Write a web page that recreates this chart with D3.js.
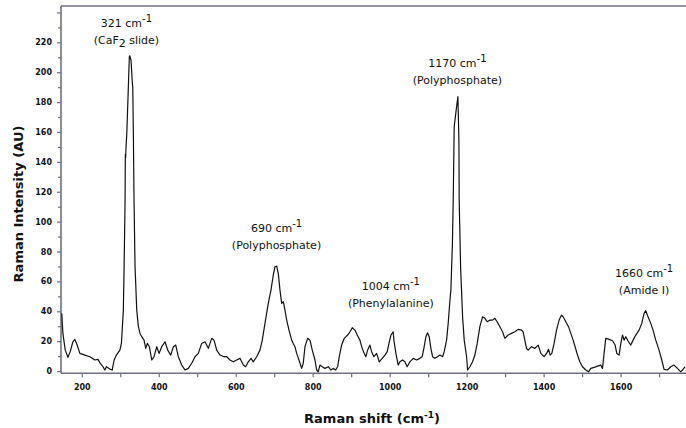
<!DOCTYPE html>
<html>
<head>
<meta charset="utf-8">
<script src="https://cdn.jsdelivr.net/npm/d3@7"></script>
<style>
  html, body { margin: 0; padding: 0; background: #fff; }
  svg { display: block; }
</style>
</head>
<body>
<svg id="chart" width="686" height="428"></svg>
<script>
// ---- data ----
const wavenumber = [148,151,157,164,170,177,182,188,195,208,221,234,242,248,255,260,264,273,279,284,290,299,303,305,308,310,312.5,313.2,314,315,317,321,323.6,324.6,328,331.4,332.5,334,335.8,338.4,342.8,347,351.4,355.8,361.8,366.2,370.4,375.6,381.8,387.8,394.8,400.7,407.8,416.3,423.3,431.1,437.9,444.1,450.9,459.7,468.3,476.8,485.7,494.2,502.8,511.6,520.2,528.8,537.6,543.6,550.6,559.2,569.6,576.6,585.1,593.7,602.5,611.1,619.7,625.9,632.7,639.7,645.7,654.5,663,669,676,684.6,691.6,697.6,702,706.4,710.6,715,719.4,723.6,728,732.4,738.4,745.4,749.5,753.9,758.4,764.3,771.3,775.5,779.9,786.9,792.9,798.9,805.9,810.3,814.4,818.9,824.8,831.8,840.4,847.4,853.4,859.6,864.8,869,875.2,882,890.8,896.8,902.7,909.8,915.7,922.7,928.7,933.9,938.3,942.7,948.7,953.1,959.1,966.1,972.9,980.7,987.7,993.7,998.1,1003.3,1009.2,1011,1016.2,1022.2,1026.6,1033.6,1039.6,1045.6,1052.6,1061.2,1070,1078.6,1084.5,1088.9,1094.2,1098.5,1102.7,1107.1,1111.5,1117.5,1124.5,1130.5,1137.5,1141.7,1147.9,1152.1,1156.5,1159.1,1163,1165.1,1167.7,1173.9,1177.3,1179.9,1180.7,1184.3,1189.5,1193.7,1199.9,1202.5,1208.4,1215.4,1221.4,1227.4,1234.4,1241.4,1247.4,1253.3,1260.3,1267.3,1273.3,1279.3,1286.3,1293.3,1299.3,1307.9,1316.7,1325.3,1333.8,1342.7,1346.8,1351.2,1355.6,1359.8,1368.7,1377.2,1385.8,1392.8,1401.4,1407.6,1412.8,1417,1421.4,1427.3,1433.6,1440.3,1446.6,1450.7,1457.7,1464.7,1470.7,1476.7,1481.9,1488.1,1494.1,1501.1,1509.7,1516.7,1522.7,1531.2,1540.1,1548.6,1553,1557.2,1561.6,1570.2,1579,1585.8,1590.2,1596.2,1600.6,1605,1609.1,1613.5,1620.5,1626.5,1632.5,1639.5,1648.1,1655.1,1661,1665.4,1671.4,1678.4,1684.4,1691.4,1700,1707,1713,1721.8,1730.4,1738.9,1747.8,1756.4,1760.8,1767.6];
const intensity = [38.6,25,14,9.2,13,19.6,21.2,17.4,11.8,10.7,9.6,7.4,7.8,5.2,2.9,0.7,2.9,1.3,0.7,7.4,10.7,14,18.5,27.4,40.8,70,114,145,143,150,159,190,210.4,211,208,192.6,190,159,114,69.8,40.8,29.7,25.2,23,20.7,15.2,18.5,16.3,7.4,9.6,16.3,11.8,16.3,19.6,14,10.7,16.3,17.4,9.6,4,0.7,1.8,5.2,9.6,11.8,18.5,19.6,15.2,21.9,20.7,14,10.7,9.6,9.6,7.4,6.2,7.4,8.5,4,2.9,6.2,8.5,6.2,9.6,14,20.7,31.9,45.3,54.2,64.3,69.8,70.3,65.4,54.2,45.3,46.4,40.8,34.1,27.4,20.7,18.5,16.3,11.8,7.4,1.8,5.2,16.3,21.9,20.7,14,7.4,0.7,-0.5,4,2.9,1.8,2.9,0.7,1.8,0.7,2.9,9.6,17.4,21.9,24.1,26.3,29,27.4,24.1,20.7,15.2,11.8,9.6,14,17.4,13,9.6,11.8,6.2,8.5,10.7,13,18.5,24.1,26.3,20.7,11.8,4,6.2,7.4,6.2,2.9,6.2,8.5,7.4,8.5,9.6,15.2,23,25.6,23,15.2,9.6,8.5,9.6,10.7,9.6,13,20.7,31.9,47,54.2,85,114,163.5,177,183.6,154.6,114,69.8,36.3,20.7,9.6,0.7,2.9,6.2,10.7,18.5,29.7,36.3,35.3,33,34.1,34.1,35.3,33,29.7,26.3,21.9,24.1,25.2,26.3,27.9,27.4,26.3,20.7,15.2,14,16.3,15.2,17.4,11.8,9.6,11.8,14.5,10.7,11.8,18.5,27.4,34.1,37.5,36.3,33,29.7,25.2,20.7,16.3,10.7,6.2,2.9,0.7,-0.5,1.8,2.5,3.3,4,1.8,11.8,21.9,21.2,20.3,17.4,11.8,10.7,18.5,24.1,20.7,23,19.6,17.4,20.7,24.1,27.4,31.9,38.6,40.4,36.3,31.9,27.4,20.7,14,7.4,1.1,0.7,2.9,4,1.8,-0.5,0.7,2.9];

const xTickValues = d3.range(200, 1701, 100);
const xTickLabels = xTickValues.map(v => v % 200 === 0 ? String(v) : "");
const yTickValues = d3.range(0, 241, 10);
const yTickLabels = yTickValues.map(v => (v % 20 === 0 && v <= 220) ? String(v) : "");

const xTitle = "Raman shift (cm";
const yTitle = "Raman Intensity (AU)";

// annotations: peak label, assignment, anchor (wavenumber, intensity) of the text
const peakNumbers = ["321", "690", "1004", "1170", "1660"];
const peakNames   = ["CaF2 slide", "Polyphosphate", "Phenylalanine", "Polyphosphate", "Amide I"];
const peakAnchorX = [316, 706, 1003, 1176, 1661];
const peakAnchorY = [230, 93.2, 54.2, 203.7, 62.7];

// ---- layout ----
const svg = d3.select("#chart");
const mLeft = 61, mRight = 686, mTop = 6, mBottom = 373.3;
const axisColor = "#6f6f86";
const fontFamily = "'DejaVu Sans', Verdana, sans-serif";

const x = d3.scaleLinear().domain([146, 1770]).range([mLeft, mRight]);
const y = d3.scaleLinear().domain([-1.5, 244.3]).range([mBottom, mTop]);

// top frame line
svg.append("line")
  .attr("x1", mLeft).attr("x2", mRight).attr("y1", mTop).attr("y2", mTop)
  .attr("stroke", axisColor).attr("stroke-width", 1.5);

// x axis
const xAxis = svg.append("g")
  .attr("transform", `translate(0,${mBottom})`)
  .call(d3.axisBottom(x).tickValues(xTickValues)
        .tickFormat((d, i) => xTickLabels[i]).tickSize(4).tickPadding(7).tickSizeOuter(0));
// y axis
const yAxis = svg.append("g")
  .attr("transform", `translate(${mLeft},0)`)
  .call(d3.axisLeft(y).tickValues(yTickValues)
        .tickFormat((d, i) => yTickLabels[i]).tickSize(4).tickPadding(5).tickSizeOuter(0));

[xAxis, yAxis].forEach(g => {
  g.select(".domain").attr("stroke", axisColor).attr("stroke-width", 1.6);
  g.selectAll(".tick line").attr("stroke", axisColor).attr("stroke-width", 1.2);
  g.selectAll(".tick text")
    .attr("fill", "#111").attr("font-family", fontFamily)
    .attr("font-weight", "bold").attr("font-size", "8px");
});
yAxis.selectAll(".tick line").attr("x2", (d) => d % 20 === 0 ? -4 : -3);
yAxis.select(".domain").attr("d", `M0,${mBottom}V${mTop}`);
xAxis.select(".domain").attr("d", `M${mLeft},0H${mRight}`);

// spectrum line
const line = d3.line()
  .x((d, i) => x(wavenumber[i]))
  .y((d, i) => y(intensity[i]));
svg.append("path")
  .datum(wavenumber)
  .attr("d", line)
  .attr("fill", "none")
  .attr("stroke", "#111")
  .attr("stroke-width", 1.2)
  .attr("stroke-linejoin", "round");

// axis titles
const xt = svg.append("text")
  .attr("x", 372).attr("y", 423)
  .attr("text-anchor", "middle")
  .attr("font-family", fontFamily).attr("font-weight", "bold").attr("font-size", "13px")
  .attr("fill", "#111");
xt.append("tspan").text(xTitle);
xt.append("tspan").attr("font-size", "9px").attr("dy", -5).text("-1");
xt.append("tspan").attr("dy", 5).text(")");

svg.append("text")
  .attr("transform", "translate(23,204) rotate(-90)")
  .attr("text-anchor", "middle")
  .attr("font-family", fontFamily).attr("font-weight", "bold").attr("font-size", "13px")
  .attr("fill", "#111")
  .text(yTitle);

// annotations
peakNumbers.forEach((num, i) => {
  const cx = x(peakAnchorX[i]);
  const cy = y(peakAnchorY[i]);
  const t1 = svg.append("text")
    .attr("x", cx).attr("y", cy).attr("text-anchor", "middle")
    .attr("font-family", fontFamily).attr("font-size", "11px").attr("fill", "#111");
  t1.append("tspan").text(num + " cm");
  t1.append("tspan").attr("font-size", "10px").attr("dy", -5).text("-1");

  const t2 = svg.append("text")
    .attr("x", cx).attr("y", cy + 17).attr("text-anchor", "middle")
    .attr("font-family", fontFamily).attr("font-size", "11px").attr("fill", "#111");
  const name = peakNames[i];
  if (name.indexOf("CaF2") === 0) {
    t2.append("tspan").text("(CaF");
    t2.append("tspan").attr("dy", 3).text("2");
    t2.append("tspan").attr("dy", -3).text(name.slice(4) + ")");
  } else {
    t2.text("(" + name + ")");
  }
});
</script>
</body>
</html>
